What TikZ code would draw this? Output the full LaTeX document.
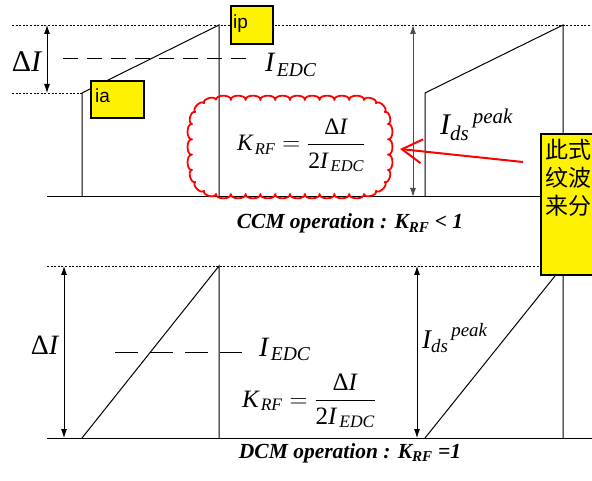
\documentclass[tikz,border=0pt]{standalone}
\usepackage{amsmath}
\usepackage{fontspec}
\setmainfont{Liberation Serif}
\newfontfamily\sansf{Liberation Sans}
\newfontfamily\cjk{Noto Sans CJK SC}
\usetikzlibrary{arrows.meta}
\newcommand{\fs}[1]{\fontsize{#1}{#1}\selectfont}
\begin{document}
\begin{tikzpicture}[x=1pt,y=-1pt,
  wave/.style={line width=1pt,black},
  dotline/.style={line width=0.8pt,dash pattern=on 2pt off 1.6pt},
  dashtop/.style={line width=1pt,dash pattern=on 15pt off 9pt},
  dashbot/.style={line width=1pt,dash pattern=on 23pt off 12pt},
  dim/.style={line width=0.8pt,{Latex[length=9pt,width=6pt]}-{Latex[length=9pt,width=6pt]}},
  ybox/.style={draw,line width=2pt,fill=yellow,inner sep=0pt,anchor=north west},
  txt/.style={inner sep=0pt},
  boldlab/.style={txt,anchor=base,font=\bfseries\itshape\fs{21.5}},
  cloudline/.style={draw=red,line width=1.8pt,line join=round},
  puff/.style={bend left=95},
]
\useasboundingbox (0,0) rectangle (592,481);
\clip (0,0) rectangle (592,481);

% ---------- top panel (CCM) ----------
\coordinate (tdl) at (12,25);  \coordinate (tdr) at (592,25);
\coordinate (tal) at (12,93);
\coordinate (ta)  at (82,93);  \coordinate (ta0) at (82,197);
\coordinate (tp)  at (219,25); \coordinate (tp0) at (219,197);
\coordinate (ra)  at (425,93); \coordinate (ra0) at (425,197);
\coordinate (rp)  at (563,25); \coordinate (rp0) at (563,197);
\coordinate (tb0) at (47,197); \coordinate (tb1) at (592,197);
\coordinate (dA1) at (47,25);  \coordinate (dA2) at (47,93);
\coordinate (dB1) at (413,25); \coordinate (dB2) at (413,197);
\coordinate (dsh1) at (63,59); \coordinate (dsh2) at (250,59);

\draw[dotline] (tdl) -- (tdr);
\draw[dotline] (tal) -- (ta);
\draw[wave] (tb0) -- (tb1);
\draw[wave] (ta0) -- (ta) -- (tp) -- (tp0);
\draw[wave] (ra0) -- (ra) -- (rp) -- (rp0);
\draw[dashtop] (dsh1) -- (dsh2);
\draw[dim] (dA1) -- (dA2);
\draw[dim,draw=black!70,line width=1pt] (dB1) -- (dB2);

\node[txt,anchor=base,font=\fs{30}] (dI1) at (27,72) {Δ\textit{I}};
\node[txt,anchor=base west,font=\fs{28}] (ie1) at (265,72) {$\textit{I}_{\mkern2mu\textit{EDC}}$};
\node[txt,anchor=base west,font=\fs{30}] (ids1) at (440,135) {${\textit{I}_{\textit{ds}}}^{\mkern3mu\textit{peak}}$};

% scalloped cloud (rounded rectangle of puffs)
\coordinate (cl0) at (216,100);
\draw[cloudline] (cl0)
  \foreach \k in {1,...,10}{ to[puff] ({216+14.8*\k},100) }
  \foreach \k in {1,2,3}{ to[puff] ({364+24*sin(30*\k)},{124-24*cos(30*\k)}) }
  \foreach \k in {1,2,3}{ to[puff] (388,{124+15.33*\k}) }
  \foreach \k in {1,2,3}{ to[puff] ({364+24*cos(30*\k)},{170+24*sin(30*\k)}) }
  \foreach \k in {1,...,10}{ to[puff] ({364-14.8*\k},194) }
  \foreach \k in {1,2,3}{ to[puff] ({216-24*sin(30*\k)},{170+24*cos(30*\k)}) }
  \foreach \k in {1,2,3}{ to[puff] (192,{170-15.33*\k}) }
  \foreach \k in {1,2,3}{ to[puff] ({216-24*cos(30*\k)},{124-24*sin(30*\k)}) };
\node[txt,anchor=base west,font=\fs{23.5}] (krf1) at (237,151)
  {$\textit{K}_{\mkern2mu\textit{RF}}=\dfrac{\text{Δ\textit{I}}}{\text{2\textit{I}}_{\mkern2mu\textit{EDC}}}$};

\node[ybox,minimum width=42pt,minimum height=38pt] (ip) at (230,5) {};
\node[txt,anchor=base west,font=\sansf\fs{19}] (iptxt) at (233,29) {ip};
\node[ybox,minimum width=53pt,minimum height=37pt] (ia) at (90,80) {};
\node[txt,anchor=base west,font=\sansf\fs{19}] (iatxt) at (95,103) {ia};

\node[boldlab] (ccm) at (350,229) {CCM operation : $\text{K}_{\text{RF}}$ < 1};

% ---------- bottom panel (DCM) ----------
\coordinate (bdl) at (47,266); \coordinate (bdr) at (592,266);
\coordinate (ba0) at (82,438); \coordinate (bp) at (219,266); \coordinate (bp0) at (219,438);
\coordinate (bra0) at (425,438); \coordinate (brp) at (563,266); \coordinate (brp0) at (563,438);
\coordinate (bb0) at (47,438); \coordinate (bb1) at (592,438);
\coordinate (dC1) at (64,266); \coordinate (dC2) at (64,438);
\coordinate (dD1) at (417,266); \coordinate (dD2) at (417,438);
\coordinate (bsh1) at (115,352); \coordinate (bsh2) at (242,352);

\draw[dotline] (bdl) -- (bdr);
\draw[wave] (bb0) -- (bb1);
\draw[wave] (ba0) -- (bp) -- (bp0);
\draw[wave] (bra0) -- (brp) -- (brp0);
\draw[dashbot] (bsh1) -- (bsh2);
\draw[dim] (dC1) -- (dC2);
\draw[dim] (dD1) -- (dD2);

\node[txt,anchor=base,font=\fs{28}] (dI2) at (45,354) {Δ\textit{I}};
\node[txt,anchor=base west,font=\fs{28}] (ie2) at (259,356) {$\textit{I}_{\mkern2mu\textit{EDC}}$};
\node[txt,anchor=base west,font=\fs{27}] (ids2) at (422,348) {${\textit{I}_{\textit{ds}}}^{\mkern3mu\textit{peak}}$};
\node[txt,anchor=base west,font=\fs{25}] (krf2) at (242,407)
  {$\textit{K}_{\mkern2mu\textit{RF}}=\dfrac{\text{Δ\textit{I}}}{\text{2\textit{I}}_{\mkern2mu\textit{EDC}}}$};

\node[boldlab] (dcm) at (350,458) {DCM operation : $\text{K}_{\text{RF}}$ =1};

% ---------- note box and arrow ----------
\node[ybox,minimum width=70pt,minimum height=141pt] (note) at (540,133) {};
\node[txt,anchor=north west,align=left,font=\cjk\fontsize{23}{28}\selectfont] (notetxt) at (545,139) {此式\\纹波\\来分};
\coordinate (arrS) at (523,162);
\coordinate (arrT) at (400,149);
\draw[red,line width=2pt,-{Straight Barb[length=20pt,width=24pt]}] (arrS) -- (arrT);
\end{tikzpicture}
\end{document}
